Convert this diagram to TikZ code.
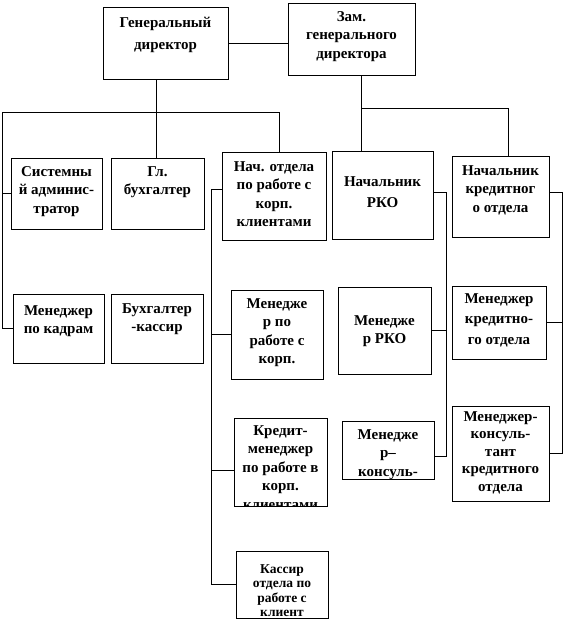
\documentclass[tikz,border=0pt]{standalone}
\usepackage{fontspec}
\setmainfont{Liberation Serif}

\begin{document}
\begin{tikzpicture}[x=1pt, y=-1pt, line width=0.8pt,
  box/.style={draw, line width=0.8pt, inner sep=0pt},
  lbl/.style={align=center, inner sep=0pt,
    font=\fontsize{15}{18.5}\selectfont\bfseries},
  smalllbl/.style={font=\fontsize{13.5}{14.5}\selectfont\bfseries}]
\useasboundingbox (0,0) rectangle (565,622);
% each post: a framed box, its text hung from the top and cut off at the frame
\newcommand{\staffbox}[8][]{% #1 text style, #2 name, #3 left, #4 top, #5 right, #6 bottom, #7 text top, #8 text
  \node[box, minimum width={(#5-#3)*1pt}, minimum height={(#6-#4)*1pt}]
    (#2) at ({(#3+#5)/2},{(#4+#6)/2}) {};
  \begin{scope}
    \clip (#2.south west) rectangle (#2.north east);
    \node[lbl, #1, anchor=north] at ({(#3+#5)/2},#7) {#8};
  \end{scope}}
\staffbox{gen}{103}{7}{228}{79}{17}{Генеральный\\[3pt]директор}
\staffbox{zam}{288}{3}{415}{75}{11}{Зам.\\генерального\\директора}
\staffbox{sys}{11}{158}{102}{229}{166}{Системны\\й админис-\\тратор}
\staffbox{glb}{111}{158}{204}{229}{166}{Гл.\\бухгалтер}
\staffbox{nach}{222}{152}{326}{240}{161}{Нач. отдела\\по работе с\\корп.\\клиентами}
\staffbox{rko}{332}{151}{433}{239}{176}{Начальник\\[3pt]РКО}
\staffbox{kred}{452}{156}{549}{237}{165}{Начальник\\кредитног\\о отдела}
\staffbox{kadr}{13}{294}{104}{363}{305}{Менеджер\\по кадрам}
\staffbox{buhk}{111}{294}{203}{363}{303}{Бухгалтер\\-кассир}
\staffbox{mkorp}{231}{290}{323}{379}{298}{Менедже\\р по\\работе с\\корп.}
\staffbox{mrko}{338}{287}{431}{374}{315}{Менедже\\р РКО}
\staffbox{mkred}{452}{286}{546}{359}{293}{Менеджер\\[2pt]кредитно-\\[2pt]го отдела}
\staffbox{mkons}{342}{421}{434}{479}{429}{Менедже\\р--\\консуль-}
\staffbox{mkcred}{452}{406}{549}{501}{411}{Менеджер-\\[-1pt]консуль-\\[-1pt]тант\\[-1pt]кредитного\\[-1pt]отдела}
\staffbox{kredm}{234}{418}{327}{506}{425}{Кредит-\\менеджер\\по работе в\\корп.\\клиентами}
\staffbox[smalllbl]{kass}{236}{551}{328}{618}{564}{Кассир\\отдела по\\работе с\\клиент}
% bus points of the tree
\coordinate (gbus) at (156,112);
\coordinate (gl) at (2,112);
\coordinate (gr) at (279,112);
\coordinate (zbus) at (361,108);
\coordinate (zr) at (508,108);
\coordinate (nbus) at (211,189);
\coordinate (rbus) at (446,192);
\coordinate (kbus) at (562,192);
\coordinate (kredin) at ([yshift=-8]kredm.west);
\coordinate (konsin) at ([yshift=-6]mkons.east);
% top level
\draw (gen.east) -- (gen.east -| zam.west);
\draw (gbus |- gen.south) -- (gbus |- glb.north);
\draw (kadr.west) -| (gl) -- (gr) -- (gr |- nach.north);
\draw (sys.west) -- (sys.west -| gl);
\draw (zbus |- zam.south) -- (zbus |- rko.north);
\draw (zbus) -- (zr) -- (zr |- kred.north);
% departments
\draw (nach.west |- nbus) -- (nbus) -- (nbus |- kass.west) -- (kass.west);
\draw (mkorp.west) -- (mkorp.west -| nbus);
\draw (kredin) -- (kredin -| nbus);
\draw (rko.east |- rbus) -- (rbus) -- (rbus |- konsin) -- (konsin);
\draw (mrko.east) -- (mrko.east -| rbus);
\draw (kred.east |- kbus) -- (kbus) -- (kbus |- mkcred.east) -- (mkcred.east);
\draw (mkred.east) -- (mkred.east -| kbus);
\end{tikzpicture}
\end{document}
